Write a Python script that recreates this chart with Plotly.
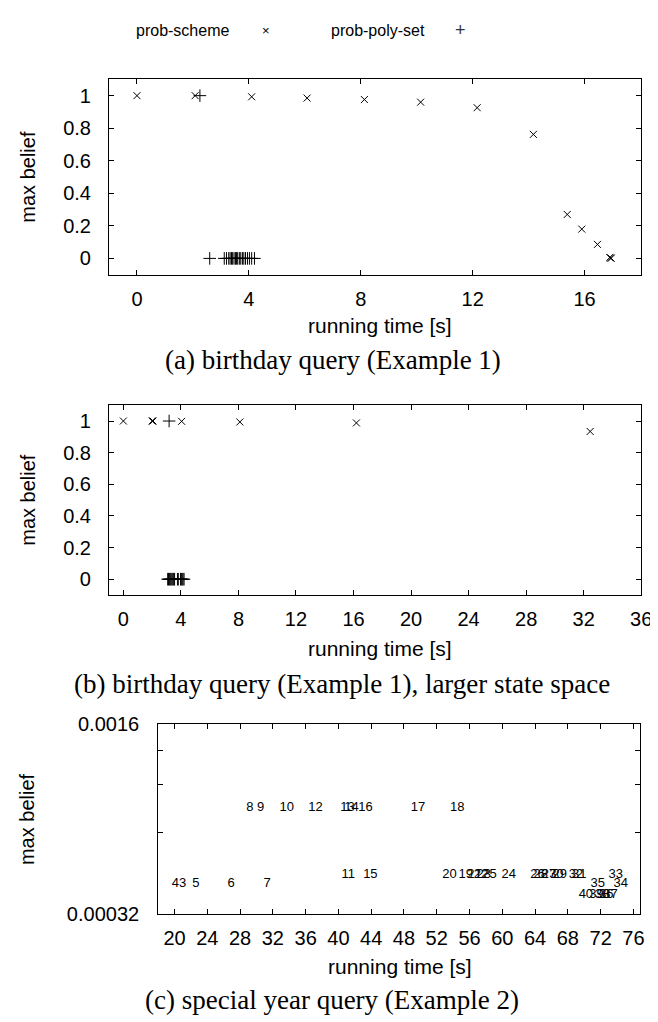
import plotly.graph_objects as go

# ---------------- data ----------------
# (a) birthday query
scheme_a_time = [0.0, 2.08, 4.1, 6.08, 8.13, 10.14, 12.16, 14.17, 15.38, 15.9, 16.46, 16.9, 16.93, 16.95]
scheme_a_belief = [1.0, 1.0, 0.993, 0.985, 0.976, 0.96, 0.926, 0.762, 0.27, 0.18, 0.086, 0.006, 0.003, 0.001]
poly_a_time = [2.25, 2.6, 3.12, 3.2, 3.28, 3.33, 3.38, 3.42, 3.47, 3.52, 3.56, 3.6, 3.66, 3.71, 3.77,
               3.82, 3.88, 3.95, 4.02, 4.1, 4.2]
poly_a_belief = [1.0, 0, 0, 0, 0, 0, 0, 0, 0, 0, 0, 0, 0, 0, 0, 0, 0, 0, 0, 0, 0]

# (b) birthday query, larger state space
scheme_b_time = [0.0, 2.0, 2.06, 4.05, 8.1, 16.2, 32.45]
scheme_b_belief = [1.0, 1.0, 1.0, 0.998, 0.994, 0.988, 0.934]
poly_b_time = [3.18, 3.08, 3.14, 3.2, 3.26, 3.32, 3.38, 3.44, 3.5, 3.56, 3.76, 3.82, 3.97, 4.03,
               4.09, 4.15, 4.22]
poly_b_belief = [1.0, 0, 0, 0, 0, 0, 0, 0, 0, 0, 0, 0, 0, 0, 0, 0, 0]

# (c) special year query
labels_c = ["3", "4", "5", "6", "7", "8", "9", "10", "11", "12", "13", "14", "15", "16", "17",
            "18", "19", "20", "21", "22", "23", "24", "25", "26", "27", "28", "29", "30", "31",
            "32", "33", "34", "35", "36", "37", "38", "39", "40"]
time_c = [21.0, 20.1, 22.6, 26.9, 31.3, 29.2, 30.5, 33.7, 41.2, 37.2, 41.1, 41.6, 43.9, 43.3, 49.7,
          54.5, 55.55, 53.55, 56.6, 57.4, 57.75, 60.8, 58.45, 64.3, 65.7, 64.7, 67.0, 66.6, 69.4,
          69.0, 73.85, 74.45, 71.65, 72.7, 73.2, 72.2, 71.5, 70.2]
belief_c = [0.000413, 0.000413, 0.000413, 0.000413, 0.000413, 0.00079, 0.00079, 0.00079, 0.000448,
            0.00079, 0.00079, 0.00079, 0.000448, 0.00079, 0.00079, 0.00079, 0.000448, 0.000448,
            0.000448, 0.000448, 0.000448, 0.000448, 0.000448, 0.000448, 0.000448, 0.000448,
            0.000448, 0.000448, 0.000448, 0.000448, 0.000448, 0.000413, 0.000413, 0.000378,
            0.000378, 0.000378, 0.000378, 0.000378]

ab_y_ticks = [0, 0.2, 0.4, 0.6, 0.8, 1]
ab_y_text = ["0", "0.2", "0.4", "0.6", "0.8", "1"]
a_x_ticks = [0, 4, 8, 12, 16]
b_x_ticks = [0, 4, 8, 12, 16, 20, 24, 28, 32, 36]
c_x_ticks = [20, 24, 28, 32, 36, 40, 44, 48, 52, 56, 60, 64, 68, 72, 76]
c_y_ticks = [0.00032, 0.00064, 0.00096, 0.00128, 0.0016]
c_y_text = ["0.00032", "", "", "", "0.0016"]

W, H = 658, 1022
SANS = "Liberation Sans, Arial, sans-serif"
SERIF = "Liberation Serif, Times New Roman, serif"


def px(x):
    return x / W


def py(y):
    return 1 - y / H


fig = go.Figure()

xmark = dict(symbol="x-thin", size=7, color="black", line=dict(width=1, color="black"))
plus = dict(symbol="cross-thin", size=9, color="black", line=dict(width=1, color="black"))

fig.add_trace(go.Scatter(x=scheme_a_time, y=scheme_a_belief, mode="markers", marker=xmark,
                         xaxis="x", yaxis="y", showlegend=False))
fig.add_trace(go.Scatter(x=poly_a_time, y=poly_a_belief, mode="markers", marker=plus,
                         xaxis="x", yaxis="y", showlegend=False))
fig.add_trace(go.Scatter(x=scheme_b_time, y=scheme_b_belief, mode="markers", marker=xmark,
                         xaxis="x2", yaxis="y2", showlegend=False))
fig.add_trace(go.Scatter(x=poly_b_time, y=poly_b_belief, mode="markers", marker=plus,
                         xaxis="x2", yaxis="y2", showlegend=False))
fig.add_trace(go.Scatter(x=time_c, y=belief_c, mode="text", text=labels_c,
                         textposition="middle center",
                         textfont=dict(family=SANS, size=13, color="black"),
                         xaxis="x3", yaxis="y3", showlegend=False))

common = dict(showline=True, linecolor="black", linewidth=1, mirror="ticks", ticks="inside",
              ticklen=5, tickcolor="black", showgrid=False, zeroline=False,
              tickfont=dict(family=SANS, size=20, color="black"))

fig.update_layout(
    width=W, height=H, margin=dict(l=0, r=0, t=0, b=0),
    paper_bgcolor="white", plot_bgcolor="white", showlegend=False,
    xaxis=dict(common, domain=[px(102.7), px(643.3)], range=[-1, 18], tickvals=a_x_ticks,
               anchor="y", ticklabelstandoff=6),
    yaxis=dict(common, domain=[py(261.3), py(61.7)], range=[-0.1, 1.1], tickvals=ab_y_ticks,
               ticktext=ab_y_text, anchor="x", ticklabelstandoff=13),
    xaxis2=dict(common, domain=[px(102.7), px(644)], range=[-1, 36], tickvals=b_x_ticks,
                anchor="y2", ticklabelstandoff=6),
    yaxis2=dict(common, domain=[py(588.7), py(394.7)], range=[-0.1, 1.1], tickvals=ab_y_ticks,
                ticktext=ab_y_text, anchor="x2", ticklabelstandoff=13),
    xaxis3=dict(common, domain=[px(152.7), px(642.7)], range=[18, 76.8], tickvals=c_x_ticks,
                anchor="y3", ticklabelstandoff=6),
    yaxis3=dict(common, type="log", domain=[py(915), py(721)],
                range=[-3.49485, -2.79588], tickvals=c_y_ticks, ticktext=c_y_text,
                anchor="x3", ticklabelstandoff=14),
)

ann = []


def text(x, y, s, size, family=SANS, angle=0, color="black"):
    ann.append(dict(x=px(x), y=py(y), xref="paper", yref="paper", text=s, showarrow=False,
                    xanchor="center", yanchor="middle", textangle=angle,
                    font=dict(family=family, size=size, color=color)))


# legend (gnuplot style: text, then sample)
text(177, 12, "prob-scheme", 16)
text(262, 12, "×", 13)
text(376, 12, "prob-poly-set", 16)
text(460, 11, "+", 18, color="#333333")

# axis titles
for yc in (161.5, 491.7, 818):
    text(20, yc, "max belief", 20, angle=-90)
text(378, 313, "running time [s]", 21)
text(378, 643, "running time [s]", 21)
text(398.7, 968, "running time [s]", 21)

# captions
text(331, 349, "(a) birthday query (Example 1)", 27, family=SERIF)
text(340, 680, "(b) birthday query (Example 1), larger state space", 27, family=SERIF)
text(330, 1003, "(c) special year query (Example 2)", 27, family=SERIF)

fig.update_layout(annotations=ann)
fig.write_html("out.html")
